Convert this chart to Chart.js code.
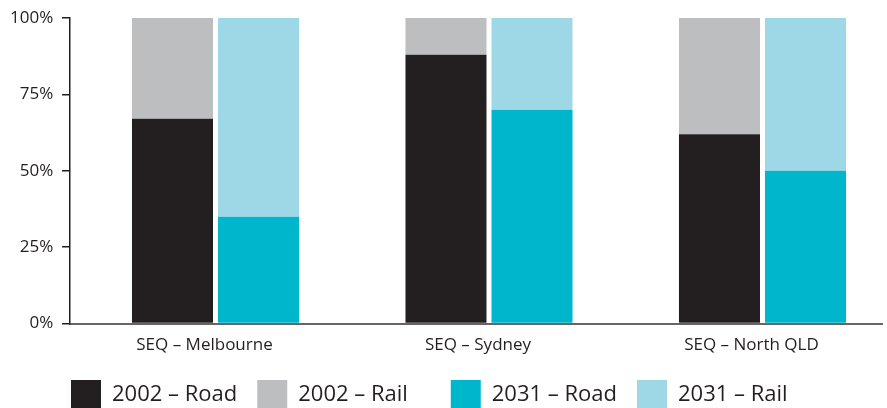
<!DOCTYPE html>
<html>
<head>
<meta charset="utf-8">
<script src="https://cdn.jsdelivr.net/npm/chart.js@4"></script>
<style>
  html, body { margin: 0; padding: 0; overflow: hidden; background: #fff; }
  #wrap { position: relative; width: 887px; height: 420px; }
</style>
</head>
<body>
<div id="wrap"><canvas id="freight"></canvas></div>
<script>
const corridors = ['SEQ \u2013 Melbourne', 'SEQ \u2013 Sydney', 'SEQ \u2013 North QLD'];
const road2002 = [67, 88, 62];
const rail2002 = [33, 12, 38];
const road2031 = [35, 70, 50];
const rail2031 = [65, 30, 50];
const yTicks = [0, 25, 50, 75, 100];
const legendNames = ['2002 \u2013 Road', '2002 \u2013 Rail    ', '2031 \u2013 Road', '2031 \u2013 Rail'];

const ink = '#231f20';

// bars sit on a numeric index axis so the groups can be placed freely
const pts = vals => vals.map((v, i) => ({ x: i, y: v }));

const ctx = document.getElementById('freight').getContext('2d');
new Chart(ctx, {
  type: 'bar',
  data: {
    datasets: [
      { label: legendNames[0], data: pts(road2002), backgroundColor: '#231f20', stack: 'y2002' },
      { label: legendNames[1], data: pts(rail2002), backgroundColor: '#bdbec0', stack: 'y2002' },
      { label: legendNames[2], data: pts(road2031), backgroundColor: '#00b6cd', stack: 'y2031' },
      { label: legendNames[3], data: pts(rail2031), backgroundColor: '#9ed8e6', stack: 'y2031' }
    ]
  },
  options: {
    responsive: true,
    maintainAspectRatio: false,
    animation: false,
    categoryPercentage: 0.629,
    barPercentage: 0.942,
    layout: { padding: { top: 18, left: 51, right: 5, bottom: 0 } },
    plugins: {
      tooltip: { enabled: false },
      legend: {
        position: 'bottom',
        align: 'start',
        labels: {
          boxWidth: 30,
          boxHeight: 30,
          padding: 20,
          color: ink,
          font: { family: 'Open Sans', size: 22 }
        }
      }
    },
    scales: {
      x: {
        type: 'linear',
        stacked: true,
        offset: false,
        bounds: 'data',
        min: -0.532,
        max: 2.437,
        afterBuildTicks: s => { s.ticks = corridors.map((c, i) => ({ value: i })); },
        afterFit: s => { s.height -= 6; },
        grid: { display: true, drawOnChartArea: false, drawTicks: false },
        border: { color: '#666', width: 2 },
        ticks: {
          autoSkip: false,
          maxRotation: 0,
          padding: 11,
          labelOffset: -11,
          color: ink,
          font: { family: 'Open Sans', size: 17 },
          callback: v => corridors[v]
        }
      },
      y: {
        stacked: true,
        min: 0,
        max: 100,
        afterFit: s => { s.width = 19; },
        afterBuildTicks: s => { s.ticks = yTicks.map(v => ({ value: v })); },
        grid: { drawOnChartArea: false, drawTicks: true, tickLength: 8, color: ink, lineWidth: 1.5 },
        border: { color: ink, width: 1.5 },
        ticks: {
          mirror: true,
          crossAlign: 'far',
          padding: -60,
          color: ink,
          font: { family: 'Open Sans', size: 17 },
          callback: v => v + '%'
        }
      }
    }
  }
});
</script>
</body>
</html>
